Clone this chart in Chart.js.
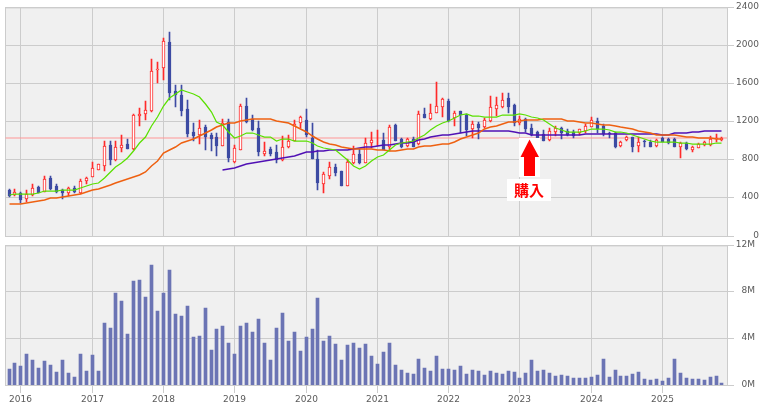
<!DOCTYPE html>
<html>
<head>
<meta charset="utf-8">
<script src="https://cdn.jsdelivr.net/npm/chart.js@4/dist/chart.umd.js"></script>
<style>
html,body{margin:0;padding:0;background:#fff;overflow:hidden}
canvas{position:absolute;left:0}
#price{top:0}
#volume{top:238px}
</style>
</head>
<body>
<canvas id="price" width="762" height="245"></canvas>
<canvas id="volume" width="762" height="167"></canvas>
<script>
const yearTicks = [2,14,26,38,50,62,74,86,98,110];
const yearLabels = ['2016','2017','2018','2019','2020','2021','2022','2023','2024','2025'];
const priceTicks = [0,400,800,1200,1600,2000,2400];
const volumeTicks = [0,4,8,12];
const lastPrice = 1035;
const buyLabel = '購入';

const highs = [499,503,471,485,555,534,631,631,548,499,
523,527,600,628,784,763,1007,1003,1007,1069,
1028,1285,1348,1424,1862,1831,2088,2144,1588,1588,
1431,1195,1222,1170,1087,1090,1236,1236,962,1389,
1452,1278,1216,996,944,965,1059,1069,1223,1264,
1341,1195,913,673,784,756,690,816,951,917,
1035,1101,1115,1090,1174,1184,1038,1035,1049,1316,
1351,1393,1622,1452,1445,1320,1320,1285,1209,1202,
1243,1476,1466,1504,1504,1393,1268,1243,1184,1111,
1118,1136,1163,1146,1129,1115,1132,1181,1257,1247,
1181,1097,1097,1007,1056,1049,1042,1017,1014,1028,
1045,1031,1035,996,993,951,983,1007,1056,1080,1049];

const lows = [412,423,353,367,429,457,464,485,457,395,
423,457,447,548,624,694,683,746,791,882,
916,909,1163,1226,1302,1612,1647,1431,1362,1268,
1049,1007,975,913,902,850,948,781,767,906,
1195,1111,850,840,850,767,788,934,1003,1143,
1049,812,485,454,600,631,527,527,763,763,
767,934,948,903,896,1007,934,944,944,958,
1247,1226,1292,1250,1198,1163,1087,1059,1038,1028,
1139,1205,1268,1344,1292,1160,1167,1101,1059,1024,
1007,1007,1059,1021,1059,1038,1069,1083,1146,1090,
1059,1035,934,944,1007,892,892,944,944,944,
996,976,944,819,903,892,927,955,955,989,1007];

const opens = [485,436,461,395,436,516,471,610,534,485,
454,513,457,582,624,701,742,962,798,930,
972,916,1261,1282,1313,1751,1772,2047,1529,1487,
1341,1101,1066,1153,1069,1049,948,1205,781,913,
1368,1233,1143,864,923,882,798,944,1007,1188,
1226,1035,809,551,635,732,690,530,767,871,
770,979,1010,1017,937,1174,1028,948,1024,972,
1285,1236,1292,1358,1424,1247,1316,1278,1125,1181,
1146,1209,1334,1355,1456,1382,1188,1236,1139,1101,
1076,1010,1101,1139,1111,1097,1083,1111,1153,1216,
1163,1087,1090,951,1010,1049,955,1000,989,948,
1031,1021,1021,944,986,903,930,958,965,1024,1010];

const closes = [430,471,381,443,513,461,607,495,471,454,
513,464,586,617,722,756,951,808,941,962,
916,1278,1285,1327,1734,1758,2057,1511,1490,1320,
1080,1059,1139,1049,1028,955,1195,819,930,1368,
1202,1122,885,899,871,802,941,1007,1181,1254,
1069,812,558,659,732,663,527,784,868,767,
983,1017,1017,910,1153,1007,944,1024,944,1285,
1247,1299,1369,1442,1216,1296,1275,1118,1181,1143,
1223,1358,1379,1431,1355,1195,1233,1125,1063,1038,
1007,1108,1136,1090,1063,1059,1129,1163,1226,1129,
1076,1073,937,996,1049,944,996,989,944,1014,
996,979,944,983,916,944,972,989,1024,1031,1035];

const maGreen = [440,443,443,447,450,461,475,478,482,485,
489,492,506,534,551,565,617,676,732,770,
822,902,979,1049,1163,1250,1372,1459,1501,1535,
1515,1497,1466,1389,1302,1198,1170,1094,1035,1059,
1087,1087,1069,1049,1045,1003,1024,1028,1003,1003,
1003,986,951,930,920,903,854,798,743,711,
739,795,830,854,913,965,979,993,1003,1035,
1069,1118,1163,1195,1212,1247,1278,1285,1268,1261,
1250,1254,1257,1275,1275,1278,1289,1278,1257,1243,
1223,1181,1143,1115,1101,1094,1094,1108,1125,1129,
1129,1118,1101,1097,1087,1063,1049,1028,1007,996,
993,993,989,986,983,972,972,972,976,979,979];

const maOrange = [346,346,346,356,363,374,388,405,409,412,
423,433,450,464,485,502,520,544,565,582,
600,624,649,680,735,791,875,909,944,979,
1007,1024,1059,1090,1122,1153,1174,1188,1195,1208,
1226,1233,1233,1233,1233,1216,1198,1188,1163,1129,
1097,1056,1021,996,976,962,941,934,923,923,
916,916,910,903,899,899,903,920,923,937,
948,955,965,972,972,996,1024,1042,1063,1090,
1125,1146,1160,1181,1202,1205,1216,1226,1226,1223,
1230,1233,1233,1233,1216,1212,1202,1195,1191,1181,
1174,1170,1156,1150,1143,1129,1108,1097,1087,1069,
1066,1063,1063,1052,1045,1042,1035,1031,1031,1028,1028];

const maPurple = [null,null,null,null,null,null,null,null,null,null,
null,null,null,null,null,null,null,null,null,null,
null,null,null,null,null,null,null,null,null,null,
null,null,null,null,null,null,701,708,721,739,
756,770,784,791,802,816,826,836,850,868,
882,892,896,899,903,906,910,910,920,927,
937,944,951,958,965,976,979,986,996,1017,
1028,1042,1052,1063,1069,1076,1087,1101,1104,1104,
1104,1108,1111,1111,1111,1101,1090,1083,1069,1069,
1069,1069,1069,1069,1069,1069,1069,1073,1080,1080,
1080,1080,1080,1080,1080,1080,1080,1080,1076,1076,
1069,1069,1083,1083,1083,1094,1094,1104,1104,1104,1104];

const volumesM = [1.4,1.91,1.66,2.69,2.17,1.49,2.09,1.74,1.14,2.17,
1.06,0.71,2.69,1.23,2.6,1.23,5.34,4.91,7.91,7.23,
4.4,8.94,9.11,7.57,10.4,6.37,7.91,9.89,6.11,5.94,
6.8,4.14,4.23,6.63,3.03,4.83,5.09,3.63,2.69,5.09,
5.34,4.57,5.69,3.63,2.17,4.91,6.2,3.8,4.57,2.94,
4.14,4.83,7.49,3.8,4.23,3.54,2.17,3.46,3.63,3.2,
3.54,2.51,1.83,2.86,3.63,1.74,1.31,1.06,0.97,2.26,
1.49,1.23,2.51,1.4,1.4,1.31,1.66,0.97,1.31,1.23,
0.89,1.23,1.06,0.97,1.23,1.14,0.63,1.06,2.17,1.23,
1.31,1.06,0.8,0.89,0.8,0.63,0.63,0.63,0.71,0.89,
2.26,0.71,1.31,0.8,0.8,0.97,1.14,0.54,0.46,0.54,
0.37,0.63,2.26,1.06,0.63,0.54,0.54,0.46,0.71,0.8,0.2];

const GRID = '#cccccc', PLOT = '#f0f0f0', TEXT = '#5a5a5a';
const RED = '#ff2a2a', BLUE = '#3d4ba3', VOL = '#6b74b4';
const FONT = {family:'"DejaVu Sans"', size:9};
const X_MIN = -0.6817, X_MAX = 120.843;
const PLOT_RIGHT = 727;

/* Pixel-snapped linear scales: the original is drawn without anti-aliasing */
class SnapX extends Chart.LinearScale {
  static id = 'snapX';
  static defaults = Chart.LinearScale.defaults;
  getPixelForValue(v){ return Math.floor(super.getPixelForValue(v)) + 0.5; }
}
class SnapY extends Chart.LinearScale {
  static id = 'snapY';
  static defaults = Chart.LinearScale.defaults;
  getPixelForValue(v){ return Math.round(super.getPixelForValue(v) + 0.5); }
  getPixelForTick(i){ return Math.floor(super.getPixelForValue(this.ticks[i].value)); }
}
Chart.register(SnapX, SnapY);

const plotFrame = {
  id:'plotFrame',
  beforeDraw(c){
    const a=c.chartArea, g=c.ctx;
    g.save();
    g.fillStyle=PLOT;
    g.fillRect(a.left,a.top,a.right-a.left,a.bottom-a.top);
    g.strokeStyle=GRID; g.lineWidth=1;
    g.strokeRect(a.left+.5,a.top+.5,a.right-a.left,a.bottom-a.top);
    g.restore();
  }
};

const buyMark = {
  id:'buyMark',
  afterDatasetsDraw(c){
    const g=c.ctx;
    g.save();
    g.fillStyle='#fff';
    g.fillRect(519,138,21,39);
    g.fillRect(507,179,44,22);
    g.fillStyle='#ff0000';
    g.beginPath();
    g.moveTo(529.5,139.5); g.lineTo(539,157); g.lineTo(535,157); g.lineTo(535,176);
    g.lineTo(524,176); g.lineTo(524,157); g.lineTo(520.5,157);
    g.closePath(); g.fill();
    g.font='bold 15px "Noto Sans CJK JP"';
    g.textAlign='center'; g.textBaseline='middle';
    g.fillText(buyLabel,529,190.5);
    g.restore();
  }
};

const xAxis = (withLabels) => ({
  type:'snapX', axis:'x', min:X_MIN, max:X_MAX, offset:false,
  afterBuildTicks(s){ s.ticks = yearTicks.map(value=>({value})); },
  afterFit(s){ s.height = withLabels ? 20 : 9; },
  grid:{offset:false, color:GRID, lineWidth:1, drawTicks:withLabels, tickLength:8, tickColor:GRID},
  border:{color:GRID},
  ticks:{display:withLabels, autoSkip:false, maxRotation:0, padding:1, color:TEXT, font:FONT,
    callback:v=>yearLabels[yearTicks.indexOf(v)]}
});

const yAxis = (values, fmt, labelRight) => ({
  type:'snapY', axis:'y', position:'right', min:values[0], max:values[values.length-1],
  afterBuildTicks(s){ s.ticks = values.map(value=>({value})); },
  afterFit(s){ s.width = labelRight - PLOT_RIGHT; },
  grid:{color:GRID, lineWidth:1, drawTicks:true, tickLength:7, tickColor:GRID},
  border:{color:GRID},
  ticks:{color:TEXT, font:FONT, padding:2, crossAlign:'far', callback:fmt}
});

const pts = arr => arr.map((y,x)=>({x,y}));
const isUp = i => closes[i] >= opens[i];
const maLine = (data,color,width,order) => ({type:'line',data:pts(data),borderColor:color,borderWidth:width,
  pointRadius:0,tension:0,fill:false,spanGaps:false,order,borderJoinStyle:'miter'});

const common = {responsive:false, animation:false, devicePixelRatio:1,
  plugins:{legend:{display:false},tooltip:{enabled:false}}, events:[]};

new Chart(document.getElementById('price'),{
  type:'bar',
  data:{datasets:[
    {type:'line',data:[{x:X_MIN,y:lastPrice},{x:X_MAX,y:lastPrice}],borderColor:'#ff9696',borderWidth:1,pointRadius:0,order:10},
    {type:'bar',grouped:false,barThickness:1,order:9,borderWidth:0,
     data:highs.map((h,i)=>({x:i,y:[lows[i],h]})),
     backgroundColor:highs.map((h,i)=>isUp(i)?RED:BLUE)},
    {type:'bar',grouped:false,barThickness:3,order:8,borderWidth:1,borderSkipped:false,
     data:opens.map((o,i)=>({x:i,y:[o,closes[i]]})),
     backgroundColor:opens.map((o,i)=>isUp(i)?'#ffffff':BLUE),
     borderColor:opens.map((o,i)=>isUp(i)?RED:BLUE)},
    maLine(maPurple,'#5010b4',1.4,4),
    maLine(maOrange,'#ee6010',1.5,3),
    maLine(maGreen,'#5ae000',1.25,2)
  ]},
  options:{...common,
    layout:{padding:{left:5,top:6,right:762-759,bottom:0}},
    scales:{x:xAxis(false), y:yAxis(priceTicks,v=>String(v),759)}
  },
  plugins:[plotFrame,buyMark]
});

new Chart(document.getElementById('volume'),{
  type:'bar',
  data:{datasets:[
    {grouped:false,barThickness:3,borderWidth:0,backgroundColor:VOL,data:pts(volumesM)}
  ]},
  options:{...common,
    layout:{padding:{left:5,top:7,right:762-755,bottom:0}},
    scales:{x:xAxis(true), y:yAxis(volumeTicks,v=>v+'M',755)}
  },
  plugins:[plotFrame]
});
</script>
</body>
</html>
